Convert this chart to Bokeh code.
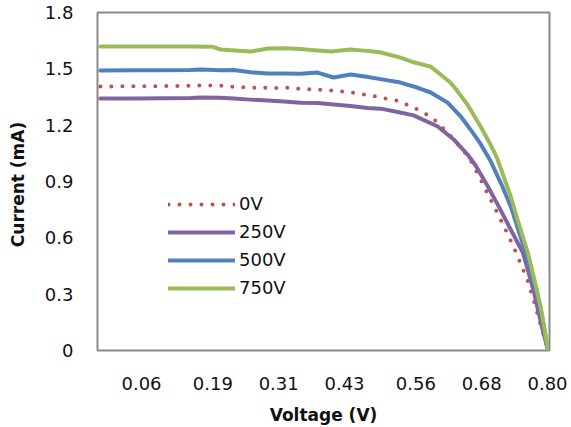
from bokeh.plotting import figure
from bokeh.models import Range1d, FixedTicker, Legend, LegendItem
from bokeh.embed import file_html
from bokeh.resources import INLINE

# ---- data ----
series_names = ["0V", "250V", "500V", "750V"]

v_0v = [-0.015, 0.05, 0.10, 0.15, 0.168, 0.204, 0.228, 0.26, 0.30, 0.32, 0.35, 0.381, 0.41,
        0.441, 0.47, 0.49, 0.505, 0.527, 0.556, 0.59, 0.618, 0.642, 0.656, 0.665, 0.691,
        0.714, 0.733, 0.745, 0.764, 0.775, 0.787, 0.801]
i_0v = [1.406, 1.407, 1.408, 1.410, 1.412, 1.410, 1.404, 1.400, 1.398, 1.400, 1.393, 1.390, 1.384,
        1.374, 1.362, 1.352, 1.342, 1.330, 1.294, 1.240, 1.160, 1.080, 1.030, 0.985, 0.835,
        0.700, 0.585, 0.505, 0.370, 0.265, 0.140, 0.0]

v_250v = [-0.015, 0.05, 0.10, 0.15, 0.168, 0.204, 0.228, 0.259, 0.29, 0.32, 0.35, 0.381, 0.41,
          0.441, 0.472, 0.496, 0.527, 0.556, 0.60, 0.629, 0.654, 0.669, 0.69, 0.709, 0.733,
          0.755, 0.764, 0.775, 0.782, 0.79, 0.801]
i_250v = [1.342, 1.342, 1.343, 1.345, 1.347, 1.346, 1.342, 1.336, 1.331, 1.326, 1.320, 1.318, 1.310,
          1.302, 1.292, 1.288, 1.270, 1.252, 1.193, 1.124, 1.045, 0.985, 0.880, 0.778, 0.644,
          0.522, 0.430, 0.315, 0.225, 0.125, 0.0]

v_500v = [-0.015, 0.05, 0.10, 0.15, 0.168, 0.204, 0.228, 0.259, 0.29, 0.32, 0.35, 0.381, 0.41,
          0.441, 0.47, 0.49, 0.532, 0.556, 0.587, 0.618, 0.642, 0.665, 0.678, 0.696, 0.716,
          0.733, 0.76, 0.787, 0.801]
i_500v = [1.491, 1.492, 1.493, 1.494, 1.496, 1.492, 1.494, 1.482, 1.475, 1.475, 1.474, 1.480, 1.454,
          1.470, 1.458, 1.448, 1.427, 1.406, 1.374, 1.320, 1.246, 1.155, 1.100, 1.010, 0.885,
          0.767, 0.522, 0.234, 0.0]

v_750v = [-0.015, 0.05, 0.10, 0.15, 0.19, 0.204, 0.23, 0.259, 0.29, 0.32, 0.35, 0.381, 0.405,
          0.441, 0.465, 0.483, 0.496, 0.532, 0.556, 0.587, 0.605, 0.623, 0.636, 0.654, 0.678,
          0.691, 0.702, 0.709, 0.733, 0.745, 0.764, 0.78, 0.79, 0.801]
i_750v = [1.619, 1.619, 1.619, 1.619, 1.617, 1.603, 1.598, 1.592, 1.608, 1.610, 1.606, 1.598, 1.592,
          1.603, 1.597, 1.592, 1.587, 1.560, 1.535, 1.512, 1.470, 1.427, 1.380, 1.310, 1.193,
          1.124, 1.062, 1.017, 0.820, 0.700, 0.522, 0.330, 0.190, 0.0]

x_tick_labels = ["0.06", "0.19", "0.31", "0.43", "0.56", "0.68", "0.80"]
y_tick_labels = ["0", "0.3", "0.6", "0.9", "1.2", "1.5", "1.8"]

colors = ["#C0504D", "#8064A2", "#4F81BD", "#9BBB59"]

FONT = "DejaVu Sans"

p = figure(width=571, height=427, output_backend="svg", toolbar_location=None,
           x_range=Range1d(-0.0202, 0.8036), y_range=Range1d(0, 1.8),
           min_border_left=97, min_border_right=22, min_border_top=12, min_border_bottom=76)
p.background_fill_color = "white"
p.border_fill_color = "white"
p.outline_line_color = "#8a8a8a"
p.outline_line_width = 2
p.xgrid.visible = False
p.ygrid.visible = False

series = [(v_0v, i_0v), (v_250v, i_250v), (v_500v, i_500v), (v_750v, i_750v)]
renderers = []
for k, (vx, iy) in enumerate(series):
    if k == 0:
        r = p.line(vx, iy, line_color=colors[k], line_width=4, line_dash="0 11",
                   line_cap="round", line_join="round")
    else:
        r = p.line(vx, iy, line_color=colors[k], line_width=4,
                   line_cap="round", line_join="round")
    renderers.append(r)

xt = [float(s) for s in x_tick_labels]
yt = [float(s) for s in y_tick_labels]
p.xaxis.ticker = FixedTicker(ticks=xt)
p.yaxis.ticker = FixedTicker(ticks=yt)
p.xaxis.major_label_overrides = {t: s for t, s in zip(xt, x_tick_labels)}
p.yaxis.major_label_overrides = {t: s for t, s in zip(yt, y_tick_labels)}

for ax in (p.xaxis[0], p.yaxis[0]):
    ax.axis_line_color = None
    ax.major_tick_line_color = None
    ax.minor_tick_line_color = None
    ax.major_tick_out = 0
    ax.major_tick_in = 0
    ax.major_label_text_font = FONT
    ax.major_label_text_font_size = "18px"
    ax.major_label_text_color = "#111111"
    ax.axis_label_text_font = FONT
    ax.axis_label_text_font_size = "17px"
    ax.axis_label_text_font_style = "bold"
    ax.axis_label_text_color = "#111111"

p.xaxis.axis_label = "Voltage (V)"
p.yaxis.axis_label = "Current  (mA)"
p.xaxis.major_label_standoff = 26
p.xaxis.axis_label_standoff = 12
p.yaxis.major_label_standoff = 24
p.yaxis.axis_label_standoff = 14

legend = Legend(items=[LegendItem(label=n, renderers=[r]) for n, r in zip(series_names, renderers)],
                location=(71, 52))
legend.border_line_color = None
legend.background_fill_alpha = 0
legend.label_text_font = FONT
legend.label_text_font_size = "18px"
legend.label_text_color = "#111111"
legend.glyph_width = 67
legend.glyph_height = 20
legend.label_height = 20
legend.spacing = 7
legend.padding = 0
legend.margin = 0
legend.label_standoff = 4
p.add_layout(legend)

open("out.html", "w").write(file_html(p, INLINE))
